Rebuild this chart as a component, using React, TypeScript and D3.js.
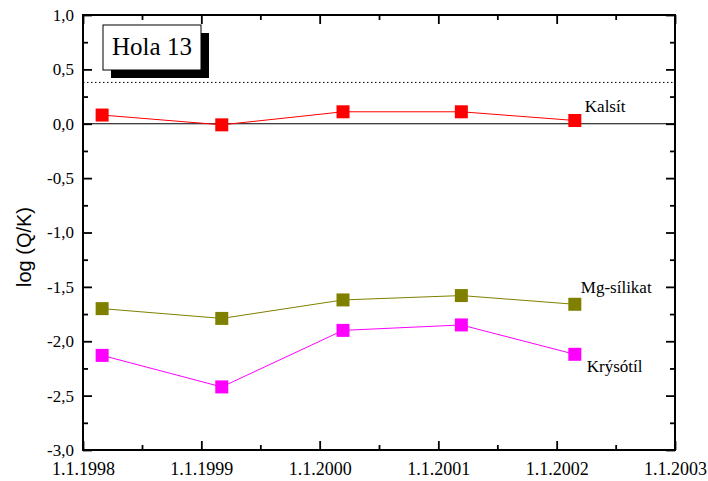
import React, { useRef, useEffect } from 'react';
import * as d3 from 'd3';

// sample dates and log(Q/K) values
const sampleDates = ['1998-03-01', '1999-03-05', '2000-03-13', '2001-03-13', '2002-02-26'];
const kalsit = [0.08, -0.01, 0.11, 0.11, 0.03];
const mgSilikat = [-1.70, -1.79, -1.62, -1.58, -1.66];
const krysotil = [-2.13, -2.42, -1.90, -1.85, -2.12];
const seriesNames = ['Kalsít', 'Mg-sílikat', 'Krýsótíl'];
const seriesColors = ['#ff0000', '#808000', '#ff00ff'];
const yTicks = [1.0, 0.5, 0.0, -0.5, -1.0, -1.5, -2.0, -2.5, -3.0];
const xTickYears = [1998, 1999, 2000, 2001, 2002, 2003];
const dottedLevel = 0.38;
const title = 'Hola 13';

const serif = '"Liberation Serif", "Times New Roman", serif';

function App() {
  const ref = useRef(null);

  useEffect(() => {
    document.body.style.margin = '0';
    const width = 708;
    const height = 481;
    const margin = { top: 15, right: 33, bottom: 31, left: 83 };
    const w = width - margin.left - margin.right;
    const h = height - margin.top - margin.bottom;

    const root = d3.select(ref.current);
    root.selectAll('*').remove();

    const svg = root
      .append('svg')
      .attr('width', width)
      .attr('height', height)
      .style('display', 'block')
      .style('background', '#fff');

    const g = svg.append('g').attr('transform', `translate(${margin.left},${margin.top})`);

    const x = d3.scaleTime()
      .domain([new Date(1998, 0, 1), new Date(2003, 0, 1)])
      .range([0, w]);
    const y = d3.scaleLinear().domain([-3, 1]).range([h, 0]);

    const parse = d3.timeParse('%Y-%m-%d');
    const dates = sampleDates.map(d => parse(d));
    const allSeries = [kalsit, mgSilikat, krysotil].map(vals =>
      vals.map((v, i) => ({ date: dates[i], value: v }))
    );

    const fmtY = (d) => d3.format('.1f')(d).replace('.', ',').replace('−', '-');
    const xMajor = xTickYears.map(yr => new Date(yr, 0, 1));
    const xMinor = xTickYears.slice(0, -1).map(yr => new Date(yr, 6, 2));
    const yMinor = d3.range(-2.75, 1, 0.5);

    // reference lines
    g.append('line')
      .attr('x1', 0).attr('x2', w)
      .attr('y1', y(0)).attr('y2', y(0))
      .attr('stroke', '#000').attr('stroke-width', 1.2);
    g.append('line')
      .attr('x1', 0).attr('x2', w)
      .attr('y1', y(dottedLevel)).attr('y2', y(dottedLevel))
      .attr('stroke', '#000').attr('stroke-width', 1)
      .attr('stroke-dasharray', '1.5,2.5');

    const styleAxis = (size) => (sel) => {
      sel.attr('font-family', serif).attr('font-size', size);
      sel.select('.domain').remove();
      sel.selectAll('line').attr('stroke', '#000').attr('stroke-width', 1.8);
      sel.selectAll('text').attr('fill', '#000');
    };

    // bottom axis
    g.append('g').attr('transform', `translate(0,${h})`)
      .call(d3.axisBottom(x).tickValues(xMajor).tickSizeInner(-9).tickSizeOuter(0).tickPadding(12)
        .tickFormat(d3.timeFormat('1.1.%Y')))
      .call(styleAxis(18));
    g.append('g').attr('transform', `translate(0,${h})`)
      .call(d3.axisBottom(x).tickValues(xMinor).tickSizeInner(-5).tickSizeOuter(0).tickFormat(() => ''))
      .call(styleAxis(18));
    // top axis
    g.append('g')
      .call(d3.axisTop(x).tickValues(xMajor).tickSizeInner(-9).tickSizeOuter(0).tickFormat(() => ''))
      .call(styleAxis(18));
    g.append('g')
      .call(d3.axisTop(x).tickValues(xMinor).tickSizeInner(-5).tickSizeOuter(0).tickFormat(() => ''))
      .call(styleAxis(18));
    // left axis
    g.append('g')
      .call(d3.axisLeft(y).tickValues(yTicks).tickSizeInner(-9).tickSizeOuter(0).tickPadding(9)
        .tickFormat(fmtY))
      .call(styleAxis(17));
    g.append('g')
      .call(d3.axisLeft(y).tickValues(yMinor).tickSizeInner(-5).tickSizeOuter(0).tickFormat(() => ''))
      .call(styleAxis(17));
    // right axis
    g.append('g').attr('transform', `translate(${w},0)`)
      .call(d3.axisRight(y).tickValues(yTicks).tickSizeInner(-9).tickSizeOuter(0).tickFormat(() => ''))
      .call(styleAxis(17));
    g.append('g').attr('transform', `translate(${w},0)`)
      .call(d3.axisRight(y).tickValues(yMinor).tickSizeInner(-5).tickSizeOuter(0).tickFormat(() => ''))
      .call(styleAxis(17));

    // frame
    g.append('rect')
      .attr('x', 0).attr('y', 0).attr('width', w).attr('height', h)
      .attr('fill', 'none').attr('stroke', '#000').attr('stroke-width', 2);

    // series
    const line = d3.line()
      .x(d => x(d.date))
      .y(d => y(d.value));
    const ms = 13;
    allSeries.forEach((data, si) => {
      g.append('path')
        .datum(data)
        .attr('d', line)
        .attr('fill', 'none')
        .attr('stroke', seriesColors[si])
        .attr('stroke-width', 1);
      g.selectAll(null)
        .data(data)
        .enter()
        .append('rect')
        .attr('x', d => x(d.date) - ms / 2)
        .attr('y', d => y(d.value) - ms / 2)
        .attr('width', ms)
        .attr('height', ms)
        .attr('fill', seriesColors[si]);
    });

    // series labels
    const lastDate = dates[dates.length - 1];
    const labelOffsets = [
      { dx: 10, dy: -8 },
      { dx: 6, dy: -11 },
      { dx: 12, dy: 18 },
    ];
    allSeries.forEach((data, si) => {
      const last = data[data.length - 1];
      g.append('text')
        .attr('x', x(lastDate) + labelOffsets[si].dx)
        .attr('y', y(last.value) + labelOffsets[si].dy)
        .attr('font-family', serif)
        .attr('font-size', 17)
        .attr('fill', '#000')
        .text(seriesNames[si]);
    });

    // title box with shadow
    const bx = 20, by = 10, bw = 98, bh = 45;
    g.append('rect')
      .attr('x', bx + 8).attr('y', by + 8).attr('width', bw).attr('height', bh)
      .attr('fill', '#000');
    g.append('rect')
      .attr('x', bx).attr('y', by).attr('width', bw).attr('height', bh)
      .attr('fill', '#fff').attr('stroke', '#000').attr('stroke-width', 1);
    g.append('text')
      .attr('x', bx + bw / 2).attr('y', by + 29.5)
      .attr('text-anchor', 'middle')
      .attr('font-family', serif)
      .attr('font-size', 25)
      .attr('fill', '#000')
      .text(title);

    // y axis title
    svg.append('text')
      .attr('transform', `translate(31,247) rotate(-90)`)
      .attr('text-anchor', 'middle')
      .attr('font-family', '"Liberation Sans", Arial, sans-serif')
      .attr('font-size', 20)
      .attr('fill', '#000')
      .text('log (Q/K)');
  }, []);

  return <div ref={ref}></div>;
}

export default App;
